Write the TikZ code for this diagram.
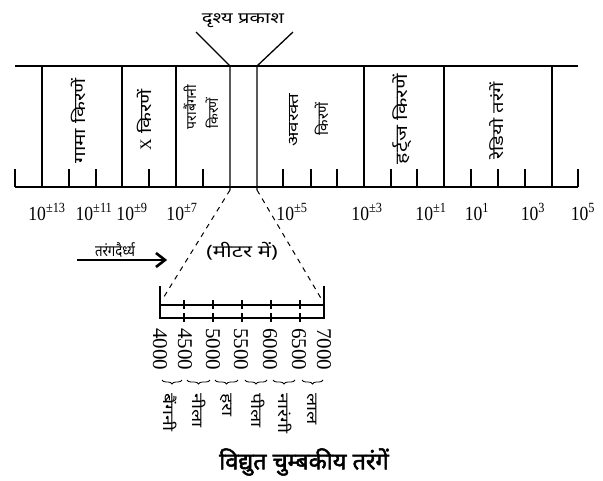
\documentclass[tikz,border=0pt]{standalone}
\usepackage{fontspec}
\setmainfont{Liberation Serif}
\newfontfamily\dev[Script=Devanagari]{Noto Sans}
\newfontfamily\devw[Script=Devanagari, FakeStretch=1.3]{Noto Sans}
\newfontfamily\devn[Script=Devanagari, FakeStretch=0.85]{Noto Sans}
\newfontfamily\devbold[Script=Devanagari, FakeBold=2.2]{Noto Sans}
\newfontfamily\numf[FakeStretch=0.88]{Liberation Serif}
\newfontfamily\serf{Liberation Serif}
\usetikzlibrary{arrows.meta,decorations.pathreplacing}
\tikzset{
  frame/.style={line width=1.3pt},
  thinframe/.style={line width=1.1pt},
  dashline/.style={line width=1pt, dash pattern=on 5pt off 5pt},
  boxlab/.style={font=\devw\fontsize{16}{16}\selectfont, rotate=90, inner sep=0pt},
  ticklab/.style={font=\numf\fontsize{20}{20}\selectfont, inner sep=0pt},
  numlab/.style={font=\fontsize{21}{21}\selectfont, rotate=-90, anchor=west, inner sep=0pt},
  collab/.style={font=\devw\fontsize{15}{15}\selectfont, rotate=-90, anchor=west, inner sep=0pt},
  bracestyle/.style={line width=0.8pt, decorate, decoration={brace, amplitude=4pt, mirror}},
  plainlab/.style={font=\devw\fontsize{15}{15}\selectfont, inner sep=0pt}
}
\begin{document}
\begin{tikzpicture}[x=1pt,y=-1pt]
\useasboundingbox (0,0) rectangle (603,480);
% main strip
\coordinate (tl) at (15,66); \coordinate (tr) at (578,66);
\coordinate (bl) at (15,187); \coordinate (br) at (578,187);
\draw[frame] (tl) -- (tr);
\draw[frame] (bl) -- (br);
\foreach \x in {42,122,176,364,444,552} \draw[frame] (\x,66) -- (\x,187);
\foreach \x in {15,69,96,149,203,283,311,337,391,417,471,498,525,578} \draw[thinframe] (\x,169) -- (\x,187);
% visible light
\coordinate (v1top) at (196,32); \coordinate (v1) at (230,66); \coordinate (v1b) at (230,190);
\coordinate (v2top) at (293,32); \coordinate (v2) at (257,66); \coordinate (v2b) at (257,190);
\draw[frame] (v1top) -- (v1) -- (v1b);
\draw[frame] (v2top) -- (v2) -- (v2b);
\node[plainlab, font=\devw\fontsize{15.5}{15.5}\selectfont] (vis) at (243,21) {दृश्य प्रकाश};
% box labels
\node[boxlab] (gamma) at (78,121) {गामा किरणें};
\node[boxlab] (xray) at (144,120) {{\serf X} किरणें};
\node[boxlab, font=\dev\fontsize{14}{14}\selectfont] (uv1) at (190,107) {पराबैंगनी};
\node[boxlab, font=\dev\fontsize{14}{14}\selectfont] (uv2) at (212,113) {किरणें};
\node[boxlab, font=\devw\fontsize{14.5}{14.5}\selectfont] (ir1) at (294,120) {अवरक्त};
\node[boxlab, font=\dev\fontsize{15}{15}\selectfont] (ir2) at (322,119) {किरणें};
\node[boxlab, font=\devw\fontsize{16.5}{16.5}\selectfont] (hz) at (402,119) {हर्ट्ज किरणें};
\node[boxlab, font=\devw\fontsize{15.5}{15.5}\selectfont] (radio) at (497,121) {रेडियो तरंगें};
% tick labels
\node[ticklab] (t1) at (47,212) {10\textsuperscript{±13}};
\node[ticklab] (t2) at (94,212) {10\textsuperscript{±11}};
\node[ticklab] (t3) at (132,212) {10\textsuperscript{±9}};
\node[ticklab] (t4) at (182,212) {10\textsuperscript{±7}};
\node[ticklab] (t5) at (292,212) {10\textsuperscript{±5}};
\node[ticklab] (t6) at (367,212) {10\textsuperscript{±3}};
\node[ticklab] (t7) at (431,212) {10\textsuperscript{±1}};
\node[ticklab] (t8) at (477,212) {10\textsuperscript{1}};
\node[ticklab] (t9) at (533,212) {10\textsuperscript{3}};
\node[ticklab] (t10) at (583,212) {10\textsuperscript{5}};
% wavelength arrow
\coordinate (arrA) at (77,260); \coordinate (arrB) at (165,260);
\draw[line width=1.4pt] (arrA) -- (arrB);
\draw[line width=2.6pt, line join=miter] (arrB) ++(-9,-7) -- (arrB) -- ++(-9,7);
\node[font=\devn\fontsize{15.5}{15.5}\selectfont, inner sep=0pt, anchor=south] (wl) at (115,258) {तरंगदैर्ध्य};
\node[plainlab, font=\devw\fontsize{17}{17}\selectfont] (unit) at (242,251) {(मीटर में)};
% dashed zoom lines
\coordinate (zl) at (162,300); \coordinate (zr) at (322,300);
\draw[dashline] (v1b) -- (zl);
\draw[dashline] (v2b) -- (zr);
% lower scale
\draw[frame] (160,286) -- (160,319);
\draw[frame] (324,286) -- (324,319);
\draw[frame] (160,305) -- (324,305);
\draw[frame] (160,318) -- (324,318);
\foreach \x in {184,213,242,271,300} {
  \draw[thinframe] (\x,300) -- (\x,309);
  \draw[thinframe] (\x,313) -- (\x,322);
}
\foreach \x/\t in {160/4000,185/4500,213/5000,241/5500,270/6000,299/6500,324/7000}
  \node[numlab] at (\x,328) {\t};
% braces
\foreach \a/\b in {162/182,187/210,215/238,245/267,273/295,302/323}
  \draw[bracestyle] (\a,380) -- (\b,380);
\node[collab] (c1) at (170,393) {बैंगनी};
\node[collab] (c2) at (199,393) {नीला};
\node[collab] (c3) at (226,393) {हरा};
\node[collab] (c4) at (258,393) {पीला};
\node[collab] (c5) at (285,393) {नारंगी};
\node[collab] (c6) at (312,393) {लाल};
% title
\node[font=\devbold\fontsize{23.5}{23.5}\selectfont, inner sep=0pt] (title) at (304,462) {विद्युत चुम्बकीय तरंगें};
\end{tikzpicture}
\end{document}
